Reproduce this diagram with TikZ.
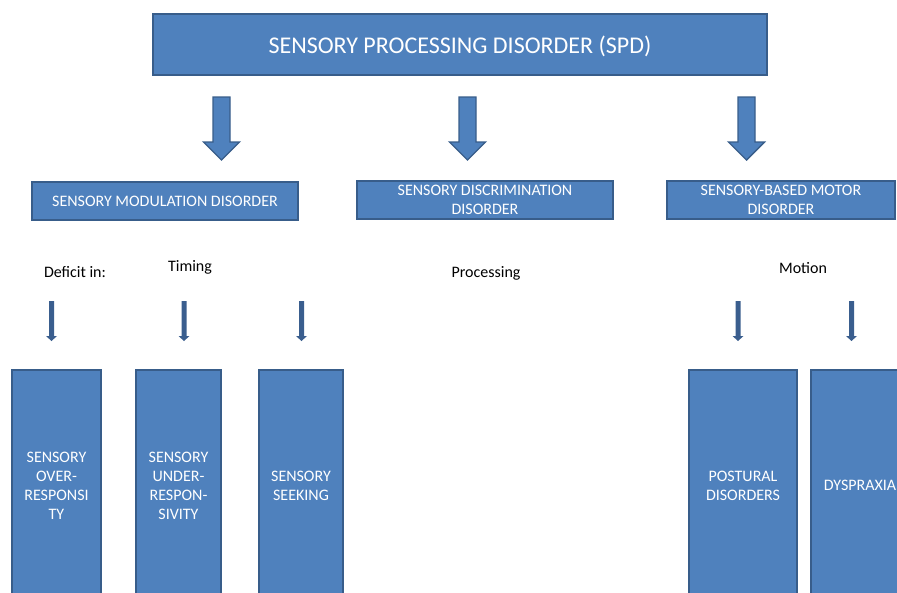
\documentclass[tikz,border=0pt]{standalone}
\usepackage{fontspec}
\setmainfont{Carlito}
\usetikzlibrary{calc}
\definecolor{boxblue}{HTML}{4F81BD}
\definecolor{boxedge}{HTML}{385D8A}
\definecolor{thinblue}{HTML}{3A5E8E}
\tikzset{
  box/.style={draw=boxedge, fill=boxblue, line width=1.6pt, text=white,
    align=center, inner sep=0pt, font=\fontsize{16}{19}\selectfont},
  tallbox/.style={box, anchor=north, minimum height=232pt},
  tag/.style={text=black, anchor=base, inner sep=0pt, font=\fontsize{16}{19}\selectfont},
  bigarrow/.style={draw=boxedge, fill=boxblue, line width=1.4pt, line join=miter},
  thinarrow/.style={fill=thinblue},
}
% downward block arrow: style, top point, tip point, shaft half width, head half width, head length
\newcommand\blockdown[6]{%
  \path[#1] let \p1=(#2), \p2=(#3) in
    (\x1-#4,\y1) -- (\x1+#4,\y1) -- (\x1+#4,\y2+#6) -- (\x1+#5,\y2+#6)
    -- (\x2,\y2) -- (\x1-#5,\y2+#6) -- (\x1-#4,\y2+#6) -- cycle;}
\begin{document}
\begin{tikzpicture}[x=1pt, y=-1pt]
  \useasboundingbox (0,0) rectangle (897,592);
  \clip (0,0) rectangle (897,592);

  % top level
  \node[box, minimum width=614pt, minimum height=61pt, text depth=0pt,
        font=\fontsize{24}{29}\selectfont] (spd) at (460,44.5)
        {SENSORY PROCESSING DISORDER (SPD)};

  % three subtypes
  \node[box, minimum width=266pt, minimum height=38pt] (smd) at (165,201)
        {SENSORY MODULATION DISORDER};
  \node[box, minimum width=256pt, minimum height=38pt] (sdd) at (485,200)
        {SENSORY DISCRIMINATION\\DISORDER};
  \node[box, minimum width=228pt, minimum height=38pt] (sbmd) at (781,200)
        {SENSORY-BASED MOTOR\\DISORDER};

  % block arrows from the top box to the subtypes
  \coordinate (a1s) at (221.5,97);  \coordinate (a1e) at (221.5,160);
  \coordinate (a2s) at (467.5,97);  \coordinate (a2e) at (467.5,160);
  \coordinate (a3s) at (746.5,97);  \coordinate (a3e) at (746.5,160);
  \blockdown{bigarrow}{a1s}{a1e}{8.5pt}{18pt}{18pt}
  \blockdown{bigarrow}{a2s}{a2e}{8.5pt}{18pt}{18pt}
  \blockdown{bigarrow}{a3s}{a3e}{8.5pt}{18pt}{18pt}

  % captions
  \node[tag] (deficit) at (75,277) {Deficit in:};
  \node[tag] (timing) at (190,271) {Timing};
  \node[tag] (processing) at (486,277) {Processing};
  \node[tag] (motion) at (803,273) {Motion};

  % thin arrows
  \coordinate (t1s) at (51.5,301); \coordinate (t1e) at (51.5,341);
  \coordinate (t2s) at (184,301);  \coordinate (t2e) at (184,341);
  \coordinate (t3s) at (301.5,301); \coordinate (t3e) at (301.5,341);
  \coordinate (t4s) at (738,301);  \coordinate (t4e) at (738,341);
  \coordinate (t5s) at (851.5,301); \coordinate (t5e) at (851.5,341);
  \blockdown{thinarrow}{t1s}{t1e}{2.5pt}{5.5pt}{5pt}
  \blockdown{thinarrow}{t2s}{t2e}{2.5pt}{5.5pt}{5pt}
  \blockdown{thinarrow}{t3s}{t3e}{2.5pt}{5.5pt}{5pt}
  \blockdown{thinarrow}{t4s}{t4e}{2.5pt}{5.5pt}{5pt}
  \blockdown{thinarrow}{t5s}{t5e}{2.5pt}{5.5pt}{5pt}

  % bottom boxes
  \node[tallbox, minimum width=89pt] (over) at (56.5,369)
        {SENSORY\\OVER-\\RESPONSI\\TY};
  \node[tallbox, minimum width=85pt] (under) at (178.5,369)
        {SENSORY\\UNDER-\\RESPON-\\SIVITY};
  \node[tallbox, minimum width=84pt] (seek) at (301,369)
        {SENSORY\\SEEKING};
  \node[tallbox, minimum width=108pt] (postural) at (743,369)
        {POSTURAL\\DISORDERS};
  \node[tallbox, minimum width=98pt] (dyspraxia) at (860,369)
        {DYSPRAXIA};
\end{tikzpicture}
\end{document}
